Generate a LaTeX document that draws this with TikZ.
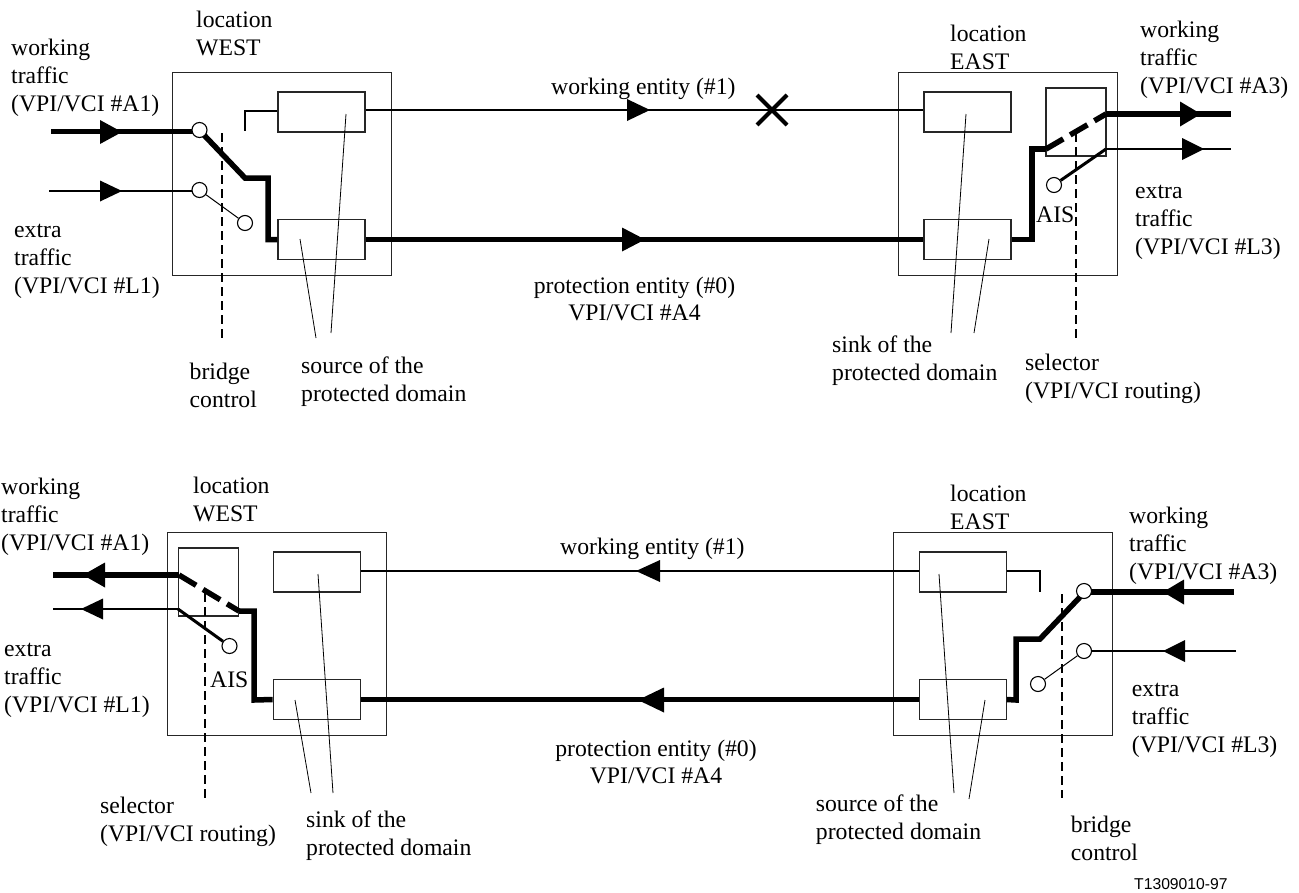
\documentclass[tikz,border=0pt]{standalone}
\usepackage{fontspec}
\setmainfont{Liberation Serif}
\newfontfamily\labelsans{Liberation Sans}
\tikzset{
  x=1pt,y=-1pt,
  outer/.style={draw=black!85,line width=1.3pt,inner sep=0pt,minimum width=219pt,minimum height=203pt},
  inner box/.style={draw=black!85,line width=1.3pt,inner sep=0pt,minimum width=87pt,minimum height=40pt},
  sel box/.style={draw=black!85,line width=1.1pt,inner sep=0pt,minimum width=60pt,minimum height=68pt},
  port/.style={circle,draw=black,fill=white,line width=1.1pt,inner sep=0pt,minimum size=15pt},
  thin line/.style={line width=1.2pt},
  mid line/.style={line width=3pt},
  heavy/.style={line width=5.5pt},
  heavy dash/.style={line width=5.5pt,dash pattern=on 20pt off 8pt},
  ctl/.style={line width=1.8pt,dash pattern=on 9pt off 5pt},
  leader/.style={line width=.8pt},
  lbl/.style={anchor=north west,inner sep=0pt,align=left,font=\fontsize{23.7}{28.3}\selectfont},
  cen/.style={anchor=north,inner sep=0pt,align=center,font=\fontsize{23.7}{27}\selectfont},
}
\newcommand{\tip}[4]{\fill (#1,#2) -- (#3,#2-#4) -- (#3,#2+#4) -- cycle;}
\newcommand{\fl}{\rule{0pt}{19.8pt}}
\begin{document}
\begin{tikzpicture}
\useasboundingbox (0,0) rectangle (1299,892);
\fill[white] (0,0) rectangle (1299,892);
% ---- top diagram
\node[outer] (tw) at (282,173.7) {};
\node[outer] (te) at (1008,173.7) {};
\node[inner box] (tws) at (321.5,112) {};
\node[inner box] (twp) at (321.5,239.5) {};
\node[inner box] (tes) at (967.5,112) {};
\node[inner box] (tep) at (967.5,239.5) {};
\node[sel box] (tsel) at (1076,122) {};
\coordinate (twa) at (51,131.5);
\coordinate (twb) at (49,191);
\coordinate (twk) at (245,178);
\coordinate (twl) at (268,178);
\coordinate (twm) at (268,239.5);
\coordinate (tws1) at (245,111);
\coordinate (tws2) at (245,131);
\coordinate (tek) at (1032,239.5);
\coordinate (tel) at (1032,149);
\coordinate (tem) at (1046,149);
\coordinate (ten) at (1106,114);
\coordinate (teo) at (1106,149);
\coordinate (tea) at (1231,114);
\coordinate (teb) at (1231,149);
\draw[thin line] (tws.east |- 0,110) -- (tes.west |- 0,110);
\draw[heavy] (twp.east) -- (tep.west);
\draw[heavy] (twa) -- (199.5,131.5);
\draw[thin line] (twb) -- (199.5,191);
\draw[heavy,line join=miter] (203,134) -- (twk) -- (twl) -- (twm) -- (twp.west);
\draw[thin line] (tws.west |- 0,111) -- (tws1) -- (tws2);
\node[port] (twc1) at (199.5,130) {};
\node[port] (twc2) at (199.5,190) {};
\node[port] (twc3) at (245,223) {};
\draw[line width=1pt] (twc2) -- (twc3);
\draw[heavy] (tep.east) -- (tek) -- (tel) -- (tem);
\draw[heavy dash] (tem) -- (ten);
\draw[heavy] (ten) -- (tea);
\draw[thin line] (teo) -- (teb);
\node[port] (tec) at (1054,185) {};
\draw[mid line] (teo) -- (tec);
\draw[ctl] (222,133) -- (222,338);
\draw[ctl] (1076,133) -- (1076,338);
\draw[leader] (346,114) -- (331,333);
\draw[leader] (300,239) -- (316,338);
\draw[leader] (966,114) -- (951,333);
\draw[leader] (989,239) -- (974,333);
\tip{122}{132}{100}{12}
\tip{122}{191}{100}{10.5}
\tip{650}{110}{627}{11}
\tip{645}{239.5}{622}{12}
\tip{1201}{114}{1180}{12.5}
\tip{1204}{149}{1182}{11}
\draw[line width=4pt] (757,95) -- (787,125) (787,95) -- (757,125);
% ---- bottom diagram
\node[outer] (bw) at (276.7,634.3) {};
\node[outer] (be) at (1003,634.3) {};
\node[inner box] (bws) at (316.8,572) {};
\node[inner box] (bwp) at (316.8,699.5) {};
\node[inner box] (bes) at (962.7,572) {};
\node[inner box] (bep) at (962.7,699.5) {};
\node[sel box] (bsel) at (208.5,582) {};
\coordinate (bwa) at (53,575);
\coordinate (bwb) at (53,609);
\coordinate (bwj) at (179,575);
\coordinate (bwk) at (178,609);
\coordinate (bwl) at (239,611);
\coordinate (bwm) at (254,611);
\coordinate (bwn) at (254,700);
\coordinate (bes1) at (1040,571);
\coordinate (bes2) at (1040,592);
\coordinate (bea) at (1233.5,592);
\coordinate (beb) at (1236,651);
\coordinate (bek) at (1040,639);
\coordinate (bel) at (1016,639);
\coordinate (bem) at (1016,700);
\draw[thin line] (bws.east |- 0,571) -- (bes.west |- 0,571);
\draw[heavy] (bwp.east) -- (bep.west);
\draw[heavy] (bwj) -- (bwa);
\draw[thin line] (bwk) -- (bwb);
\draw[heavy dash] (bwj) -- (bwl);
\draw[heavy] (bwl) -- (bwm) -- (bwn) -- (bwp.west);
\node[port] (bwc) at (229.5,646) {};
\draw[mid line] (bwk) -- (bwc);
\draw[thin line] (bes.east |- 0,571) -- (bes1) -- (bes2);
\draw[heavy] (bea) -- (1084,592);
\draw[thin line] (beb) -- (1084,651);
\draw[heavy] (1081,596) -- (bek) -- (bel) -- (bem) -- (bep.east);
\node[port] (bec1) at (1084,591) {};
\node[port] (bec2) at (1084,651) {};
\node[port] (bec3) at (1038,684) {};
\draw[line width=1pt] (bec2) -- (bec3);
\draw[ctl] (205,593) -- (205,798);
\draw[ctl] (1062,594) -- (1062,798);
\draw[leader] (318,574) -- (333,793);
\draw[leader] (295,700) -- (311,793);
\draw[leader] (939,574) -- (954,793);
\draw[leader] (985,700) -- (969,799);
\tip{83}{575}{105}{12.5}
\tip{81}{609}{103}{10.5}
\tip{636}{571}{660}{11}
\tip{638}{700}{664}{12.5}
\tip{1163}{592}{1184}{12.5}
\tip{1163}{651}{1185}{11}
% ---- texts top
\node[lbl] (t1) at (196,7.2) {\fl location\\WEST};
\node[lbl] (t2) at (11,35.2) {\fl working\\traffic\\(VPI/VCI \#A1)};
\node[lbl] (t3) at (14,217.2) {\fl extra\\traffic\\(VPI/VCI \#L1)};
\node[lbl] (t4) at (551,74.2) {\fl working entity (\#1)};
\node[cen] (t5) at (634.5,273.2) {\fl protection entity (\#0)\\VPI/VCI \#A4};
\node[lbl] (t6) at (189.5,359.2) {\fl bridge\\control};
\node[lbl] (t7) at (301,353.2) {\fl source of the\\protected domain};
\node[lbl] (t8) at (950,21.2) {\fl location\\EAST};
\node[lbl] (t9) at (1140,17.2) {\fl working\\traffic\\(VPI/VCI \#A3)};
\node[lbl] (t10) at (1135,178.2) {\fl extra\\traffic\\(VPI/VCI \#L3)};
\node[lbl] (t11) at (832,332.2) {\fl sink of the\\protected domain};
\node[lbl] (t12) at (1025,350.2) {\fl selector\\(VPI/VCI routing)};
% ---- texts bottom
\node[lbl] (b1) at (1,474) {\fl working\\traffic\\(VPI/VCI \#A1)};
\node[lbl] (b2) at (193,473) {\fl location\\WEST};
\node[lbl] (b3) at (4,636) {\fl extra\\traffic\\(VPI/VCI \#L1)};
\node[lbl] (b4) at (560,534) {\fl working entity (\#1)};
\node[cen] (b5) at (656,736) {\fl protection entity (\#0)\\VPI/VCI \#A4};
\node[lbl] (b6) at (100,793) {\fl selector\\(VPI/VCI routing)};
\node[lbl] (b7) at (306,807) {\fl sink of the\\protected domain};
\node[lbl] (b8) at (950,481) {\fl location\\EAST};
\node[lbl] (b9) at (1129,503) {\fl working\\traffic\\(VPI/VCI \#A3)};
\node[lbl] (b10) at (1131.7,676) {\fl extra\\traffic\\(VPI/VCI \#L3)};
\node[lbl] (b11) at (815.7,791) {\fl source of the\\protected domain};
\node[lbl] (b12) at (1070.7,812) {\fl bridge\\control};
\node[anchor=base west,inner sep=0pt,font=\labelsans\fontsize{15.7}{20}\selectfont] (b13) at (1134,889) {T1309010-97};
\node[lbl] (a1) at (1036,202) {\fl AIS};
\node[lbl] (a2) at (210,667) {\fl AIS};
\end{tikzpicture}
\end{document}
